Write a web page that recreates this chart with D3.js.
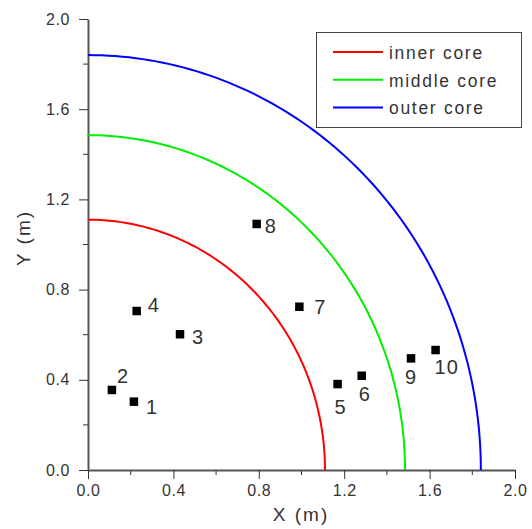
<!DOCTYPE html>
<html>
<head>
<meta charset="utf-8">
<script src="https://cdn.jsdelivr.net/npm/d3@7"></script>
<style>
  body { margin: 0; background: #fff; }
  text { font-family: "Liberation Sans", Arial, sans-serif; fill: #333; }
</style>
</head>
<body>
<div id="chart"></div>
<script>
// core boundaries (radius in m)
const cores = ["inner core", "middle core", "outer core"];
const coreRadius = [1.11, 1.485, 1.84];
const coreColor = ["#ff0000", "#00ee00", "#0000ff"];

// measuring points
const pointNames = ["1", "2", "3", "4", "5", "6", "7", "8", "9", "10"];
const pointX = [0.215, 0.112, 0.431, 0.228, 1.169, 1.282, 0.99, 0.79, 1.513, 1.628];
const pointY = [0.303, 0.355, 0.602, 0.705, 0.381, 0.418, 0.724, 1.091, 0.495, 0.532];

const xTicks = [0, 0.4, 0.8, 1.2, 1.6, 2.0];
const yTicks = [0, 0.4, 0.8, 1.2, 1.6, 2.0];

// label placement relative to the marker (px)
const labelOffsets = [[12, 12], [5, -7], [12, 10], [11, 1], [-3, 30],
  [-3, 25], [15, 7], [8, 9], [-6, 26], [-1, 24]];

const W = 532, H = 529;
const x = d3.scaleLinear().domain([0, 2]).range([88, 515]);
const y = d3.scaleLinear().domain([0, 2]).range([470, 19]);

const svg = d3.select("#chart").append("svg")
  .attr("width", W).attr("height", H);

// minor ticks
const minor = d3.range(0.2, 2.0, 0.4);
svg.append("g").selectAll("line").data(minor).join("line")
  .attr("x1", d => x(d)).attr("x2", d => x(d))
  .attr("y1", y(0)).attr("y2", y(0) + 5)
  .attr("stroke", "#333");
svg.append("g").selectAll("line").data(minor).join("line")
  .attr("y1", d => y(d)).attr("y2", d => y(d))
  .attr("x1", x(0)).attr("x2", x(0) - 5)
  .attr("stroke", "#333");

const xAxis = svg.append("g")
  .attr("transform", `translate(0,${y(0)})`)
  .call(d3.axisBottom(x).tickValues(xTicks).tickFormat(d3.format(".1f"))
    .tickSize(9).tickSizeOuter(0));
const yAxis = svg.append("g")
  .attr("transform", `translate(${x(0)},0)`)
  .call(d3.axisLeft(y).tickValues(yTicks).tickFormat(d3.format(".1f"))
    .tickSize(9).tickSizeOuter(0));

[xAxis, yAxis].forEach(g => {
  g.select(".domain").attr("stroke", "#555").attr("stroke-width", 2);
  g.selectAll(".tick line").attr("stroke", "#333");
  g.selectAll(".tick text").style("font-size", "16px").style("letter-spacing", "0.6px")
    .style("font-family", "Liberation Sans, Arial, sans-serif").attr("fill", "#333");
});
xAxis.selectAll(".tick text").attr("dy", "0.9em");
yAxis.selectAll(".tick text").attr("x", -18);

// axis titles
svg.append("text").attr("x", 301).attr("y", 521)
  .attr("text-anchor", "middle").style("font-size", "19px").style("letter-spacing", "2px")
  .text("X (m)");
svg.append("text").attr("transform", "translate(30,238) rotate(-90)")
  .attr("text-anchor", "middle").style("font-size", "19px").style("letter-spacing", "2px")
  .text("Y (m)");

// core quarter circles
const line = d3.line().x(d => x(d[0])).y(d => y(d[1]));
const angles = d3.range(0, 91, 1).map(a => a * Math.PI / 180);
svg.append("g").selectAll("path").data(coreRadius).join("path")
  .attr("d", r => line(angles.map(a => [r * Math.cos(a), r * Math.sin(a)])))
  .attr("fill", "none")
  .attr("stroke", (d, i) => coreColor[i])
  .attr("stroke-width", 2);

// points
const pts = pointNames.map((n, i) => ({ n, x: pointX[i], y: pointY[i], o: labelOffsets[i] }));
const sq = 8.5;
svg.append("g").selectAll("rect").data(pts).join("rect")
  .attr("x", d => x(d.x) - sq / 2).attr("y", d => y(d.y) - sq / 2)
  .attr("width", sq).attr("height", sq).attr("fill", "#000");
svg.append("g").selectAll("text").data(pts).join("text")
  .attr("x", d => x(d.x) + d.o[0]).attr("y", d => y(d.y) + d.o[1])
  .style("font-size", "20px").style("letter-spacing", "1px").text(d => d.n);

// legend
const lg = svg.append("g");
lg.append("rect").attr("x", 316.5).attr("y", 32.5).attr("width", 205).attr("height", 95)
  .attr("fill", "#fff").attr("stroke", "#444").attr("stroke-width", 1);
const rows = lg.selectAll("g").data(cores).join("g")
  .attr("transform", (d, i) => `translate(0,${52 + i * 27.7})`);
rows.append("line").attr("x1", 333).attr("x2", 383)
  .attr("stroke", (d, i) => coreColor[i]).attr("stroke-width", 2);
rows.append("text").attr("x", 389).attr("y", 7).style("font-size", "17.5px")
  .style("letter-spacing", "1.7px").text(d => d);
</script>
</body>
</html>
